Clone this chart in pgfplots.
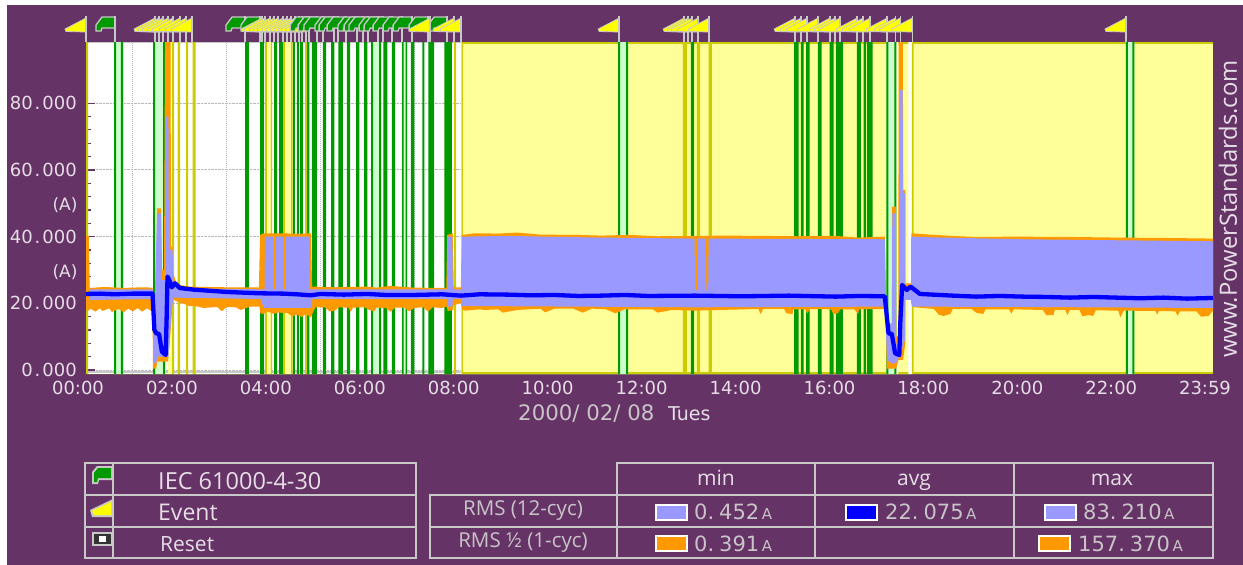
\documentclass[border=0pt]{standalone}
\usepackage{fontspec}
\setmainfont{DejaVu Sans}
\newfontfamily\tabfont{Open Sans}
\usepackage{pgfplots}
\pgfplotsset{compat=1.18}
\definecolor{bgp}{HTML}{663366}
\definecolor{lilac}{HTML}{9999FF}
\definecolor{orng}{HTML}{FF9900}
\definecolor{blu}{HTML}{0000FF}
\definecolor{grn}{HTML}{009900}
\definecolor{olv}{HTML}{CCCC00}
\definecolor{ylw}{HTML}{FFFF99}
\definecolor{lgrn}{HTML}{CCFFCC}
\definecolor{flagy}{HTML}{FFFF00}
\definecolor{flagg}{HTML}{C8C8C8}
\definecolor{txt}{HTML}{E6DEE6}
\definecolor{txtb}{HTML}{C8C4C8}
\pgfdeclareplotmark{yflag}{%
 \pgfsetlinewidth{0.8pt}\pgfsetstrokecolor{flagg}\pgfsetfillcolor{flagy}%
 \pgfpathmoveto{\pgfqpoint{0pt}{24pt}}\pgflineto{\pgfqpoint{-21pt}{13pt}}%
 \pgflineto{\pgfqpoint{-20pt}{10.5pt}}\pgflineto{\pgfqpoint{0pt}{10pt}}\pgfpathclose
 \pgfusepath{fill,stroke}%
 \pgfsetlinewidth{1.6pt}\pgfpathmoveto{\pgfqpoint{0pt}{0pt}}\pgflineto{\pgfqpoint{0pt}{26pt}}\pgfusepath{stroke}}
\pgfdeclareplotmark{gflag}{%
 \pgfsetlinewidth{1.3pt}\pgfsetstrokecolor{flagg}\pgfsetfillcolor{grn}%
 \pgfpathmoveto{\pgfqpoint{0pt}{25pt}}\pgflineto{\pgfqpoint{-13pt}{25pt}}%
 \pgflineto{\pgfqpoint{-19pt}{17pt}}\pgflineto{\pgfqpoint{-19pt}{11pt}}%
 \pgflineto{\pgfqpoint{-14pt}{11pt}}\pgflineto{\pgfqpoint{-13pt}{14pt}}\pgflineto{\pgfqpoint{0pt}{14pt}}\pgfpathclose
 \pgfusepath{fill,stroke}%
 \pgfsetlinewidth{1.6pt}\pgfpathmoveto{\pgfqpoint{0pt}{0pt}}\pgflineto{\pgfqpoint{0pt}{26pt}}\pgfusepath{stroke}}
\newcommand{\fs}[1]{\fontsize{#1}{#1}\selectfont}
\newcommand{\dt}{\hspace{2pt}.\hspace{2pt}}
\begin{document}
\begin{tikzpicture}
\begin{scope}[x=1pt,y=-1pt]
\useasboundingbox (0,0) rectangle (1243,565);
\fill[white] (0,0) rectangle (1243,565);
\fill[bgp] (7,5) rectangle (1243,565);
\end{scope}
\begin{axis}[
 at={(86pt,-374pt)},anchor=south west,
 scale only axis,width=1127pt,height=332pt,
 xmin=0,xmax=24.055,ymin=-1.2,ymax=98.35,
 clip=false,axis line style={draw=none},
 axis background/.style={fill=white},
 xtick={0,2.005,4.010,6.015,8.020,10.025,12.030,14.035,16.040,18.044,20.049,22.054,24.055},
 xticklabels={00:00,02:00,04:00,06:00,08:00,10:00,12:00,14:00,16:00,18:00,20:00,22:00,23:59},
 xtick style={draw=none},
 extra x ticks={1.0025,3.007,5.012,7.017,8.020},
 extra x tick labels={},
 extra x tick style={grid=major,major grid style={densely dotted,draw=gray!55,line width=1pt},tick style={draw=none}},
 xticklabel style={font=\fs{18},text=txt,inner sep=0pt,anchor=north,xshift=-8pt,yshift=-7pt},
 ytick={0,20,40,60,80},
 yticklabels={0\dt000,20\dt000,40\dt000,60\dt000,80\dt000},
 minor y tick num=4,
 ymajorgrids,
 major grid style={densely dotted,draw=gray!55,line width=1pt},
 tick pos=left,tick align=inside,
 major tick length=9pt,minor tick length=4.5pt,
 y tick style={draw=bgp,line width=1.2pt},
 minor y tick style={draw=bgp,line width=1.2pt},
 yticklabel style={font=\fs{18},text=txt,inner sep=0pt,anchor=east,xshift=-9pt},
]
% yellow part of the day
\addplot[fill=ylw,draw=none] coordinates {(8.05,-1.2)(8.05,98.35)(24.055,98.35)(24.055,-1.2)};
% grey/olive frame lines
\addplot[draw=gray!45,line width=1.6pt] coordinates {(0,-0.6)(8.05,-0.6)};
\addplot[draw=gray!45,line width=1.2pt] coordinates {(0,98.1)(8.05,98.1)};
\addplot[draw=olv,line width=1.4pt] coordinates {(8.05,-0.9)(24.055,-0.9)};
\addplot[draw=olv,line width=1.4pt] coordinates {(8.05,98.1)(24.055,98.1)};
% light green boxes
\addplot[const plot,fill=lgrn,draw=none] coordinates {(0.598,-1.2)(0.598,98.35)(0.79,-1.2)(1.431,-1.2)(1.431,98.35)(1.687,-1.2)(6.085,-1.2)(6.085,98.35)(6.299,-1.2)(6.747,-1.2)(6.747,98.35)(6.854,-1.2)(11.359,-1.2)(11.359,98.35)(11.573,-1.2)(17.082,-1.2)(17.082,98.35)(17.295,-1.2)(22.198,-1.2)(22.198,98.35)(22.377,-1.2)};
% light yellow strips
\addplot[const plot,fill=ylw,draw=none] coordinates {(1.751,-1.2)(1.751,98.35)(1.836,-1.2)(3.858,-1.2)(3.858,98.35)(3.944,-1.2)(4.249,-1.2)(4.249,98.35)(4.377,-1.2)};
% white strips
\addplot[const plot,fill=white,draw=none] coordinates {(8.0,-1.2)(8.0,98.35)(8.018,-1.2)(17.295,-1.2)(17.295,98.35)(17.338,-1.2)(17.551,-1.2)(17.551,98.35)(17.63,-1.2)};
% green bars
\addplot[const plot,fill=grn,draw=none] coordinates {(0.598,-1.2)(0.598,98.35)(0.641,-1.2)(0.747,-1.2)(0.747,98.35)(0.79,-1.2)(1.431,-1.2)(1.431,98.35)(1.473,-1.2)(1.644,-1.2)(1.644,98.35)(1.687,-1.2)
(3.395,-1.2)(3.395,98.35)(3.474,-1.2)(3.715,-1.2)(3.715,98.35)(3.801,-1.2)(4.014,-1.2)(4.014,98.35)(4.078,-1.2)(4.121,-1.2)(4.121,98.35)(4.206,-1.2)(4.413,-1.2)(4.413,98.35)(4.456,-1.2)(4.499,-1.2)(4.499,98.35)(4.542,-1.2)(4.569,-1.2)(4.569,98.35)(4.627,-1.2)(4.719,-1.2)(4.719,98.35)(4.768,-1.2)(4.819,-1.2)(4.819,98.35)(4.926,-1.2)(5.054,-1.2)(5.054,98.35)(5.124,-1.2)(5.231,-1.2)(5.231,98.35)(5.302,-1.2)(5.387,-1.2)(5.387,98.35)(5.481,-1.2)(5.566,-1.2)(5.566,98.35)(5.637,-1.2)(5.765,-1.2)(5.765,98.35)(5.836,-1.2)(5.936,-1.2)(5.936,98.35)(6.006,-1.2)
(6.085,-1.2)(6.085,98.35)(6.128,-1.2)(6.256,-1.2)(6.256,98.35)(6.299,-1.2)(6.348,-1.2)(6.348,98.35)(6.433,-1.2)(6.527,-1.2)(6.527,98.35)(6.598,-1.2)(6.747,-1.2)(6.747,98.35)(6.779,-1.2)(6.822,-1.2)(6.822,98.35)(6.854,-1.2)(6.933,-1.2)(6.933,98.35)(7.01,-1.2)(7.181,-1.2)(7.181,98.35)(7.223,-1.2)(7.309,-1.2)(7.309,98.35)(7.431,-1.2)(7.651,-1.2)(7.651,98.35)(7.808,-1.2)
(11.359,-1.2)(11.359,98.35)(11.402,-1.2)(11.53,-1.2)(11.53,98.35)(11.573,-1.2)(12.912,-1.2)(12.912,98.35)(12.982,-1.2)(15.117,-1.2)(15.117,98.35)(15.209,-1.2)(15.26,-1.2)(15.26,98.35)(15.316,-1.2)(15.373,-1.2)(15.373,98.35)(15.444,-1.2)(15.623,-1.2)(15.623,98.35)(15.70,-1.2)(15.871,-1.2)(15.871,98.35)(15.956,-1.2)(16.008,-1.2)(16.008,98.35)(16.157,-1.2)(16.456,-1.2)(16.456,98.35)(16.541,-1.2)(16.597,-1.2)(16.597,98.35)(16.648,-1.2)(16.669,-1.2)(16.669,98.35)(16.789,-1.2)(17.082,-1.2)(17.082,98.35)(17.124,-1.2)(17.252,-1.2)(17.252,98.35)(17.295,-1.2)(22.198,-1.2)(22.198,98.35)(22.24,-1.2)(22.335,-1.2)(22.335,98.35)(22.377,-1.2)};
% olive bars
\addplot[const plot,fill=olv,draw=none] coordinates {(0,-1.2)(0,98.35)(0.043,-1.2)(1.836,-1.2)(1.836,98.35)(1.879,-1.2)(1.954,-1.2)(1.954,98.35)(2.007,-1.2)(2.135,-1.2)(2.135,98.35)(2.178,-1.2)(2.274,-1.2)(2.274,98.35)(2.342,-1.2)(3.822,-1.2)(3.822,98.35)(3.858,-1.2)(3.944,-1.2)(3.944,98.35)(3.971,-1.2)(4.206,-1.2)(4.206,98.35)(4.249,-1.2)(4.377,-1.2)(4.377,98.35)(4.409,-1.2)(4.676,-1.2)(4.676,98.35)(4.719,-1.2)(7.857,-1.2)(7.857,98.35)(7.9,-1.2)(8.018,-1.2)(8.018,98.35)(8.05,-1.2)(12.741,-1.2)(12.741,98.35)(12.826,-1.2)(13.04,-1.2)(13.04,98.35)(13.11,-1.2)(13.287,-1.2)(13.287,98.35)(13.36,-1.2)(17.63,-1.2)(17.63,98.35)(17.664,-1.2)};
% RMS 1/2 envelope (orange)
\addplot[fill=orng,draw=none] coordinates {
(0,40.2)(0.06,40.2)(0.08,24.6)(0.4,24.9)(0.8,24.6)(1.2,24.8)(1.42,24.7)(1.43,14)(1.495,14)(1.516,48.5)(1.601,48.5)(1.623,30)(1.665,30)(1.687,98.35)(1.804,98.35)(1.815,37)(1.847,37)(1.858,29)(1.922,26.5)(2.007,25.5)(2.221,25)(3,24.8)(3.69,24.8)
(3.715,40.5)(3.8,41)(4.2,41)(4.5,40.8)(4.8,41)(4.826,25)(5.3,24.8)(6,25)(6.2,24.7)(6.5,25.2)(7,24.7)(7.69,24.6)(7.71,40.5)(7.83,41)(7.85,24.8)(8.0,24.8)(8.02,40.5)
(8.3,41)(8.8,40.9)(9.2,41.2)(9.7,40.6)(10.5,40.5)(11,40.3)(11.6,40.5)(12.2,40.1)(13,40.2)(13.6,40.3)(14.5,40.2)(15.2,40.1)(16,40.2)(16.5,39.7)(17.05,40)
(17.07,16)(17.096,12)(17.2,12)(17.202,49)(17.29,49)(17.295,10)(17.34,10)(17.344,98.35)(17.437,98.35)(17.44,54)(17.487,54)(17.49,26)(17.609,26)(17.615,41)(18,40.6)(18.5,40.2)(19,39.9)(20,40)(20.5,39.9)(21,39.9)(22,39.7)(23,39.6)(24.055,39.4)
(24.055,17.8)(23.96,16.2)(23.8,16)(23.7,17.6)(23.35,17.6)(23.3,16.3)(23.25,17.6)(22.9,17.7)(22.87,16.7)(22.82,17.7)(22.15,17.8)(22.08,15.8)(22.03,17.8)(21.55,17.9)(21.5,16.2)(21.4,16.5)(21.27,16.1)(21.2,18)(21,18)(20.95,16.5)(20.9,18)(20.68,18)(20.65,16.5)(20.5,16.4)(20.42,18)(19.8,18.2)(19.75,16.9)(19.7,18.2)(19.2,18.2)(19.15,16.8)(19,17.2)(18.9,18.3)(18.5,18.3)(18.45,16.8)(18.3,16.2)(18.2,16.6)(18.1,18.3)(17.7,18.8)(17.65,19)(17.615,20)
(17.61,22)(17.49,22)(17.487,8)(17.44,3)(17.344,3)(17.295,0.4)(17.09,0.4)(17.08,10)(17.06,16)(17.05,18.3)
(17,18.3)(16.5,18.2)(16.48,16.8)(16.4,18.2)(16.1,18.2)(16.05,17)(15.95,16.8)(15.9,18.2)(15.45,18.3)(15.4,17)(15.35,18.2)(15.1,18.2)(15.08,16.8)(14.95,17)(14.9,18.3)(14.45,18.3)(14.4,16.7)(14.35,18.3)(13.5,18)(13.0,17.8)(12.5,18)(12.2,17.2)(12.1,18.2)(11.5,18.2)(11.3,17)(11.1,18.2)(10.8,18.4)(10.6,17.2)(10.4,18.4)(10,18.4)(9.8,17.3)(9.7,18.4)(9.2,18)(8.9,17.2)(8.8,18.2)(8.5,18)(8.4,18.2)(8.1,17.8)(8.03,18)(8,20)
(7.85,19.5)(7.84,18)(7.72,17.7)(7.7,19)(7.6,18.6)(7.4,18.8)(7.3,17.5)(7.2,18.8)(7.0,18.6)(6.9,17.6)(6.8,18.7)(6.6,18.7)(6.5,17.5)(6.4,18.6)(6.2,18.7)(6.15,17.6)(6.05,18)(5.95,18.8)(5.7,18.7)(5.65,17.5)(5.6,18.7)(5.4,18.8)(5.3,17.7)(5.2,17.6)(5.1,18.8)(4.9,18.8)(4.85,17.5)(4.8,15.8)(4.7,16.8)(4.6,15.9)(4.5,16.6)(4.4,16.1)(4.3,17.1)(4.1,17.2)(4.0,16.8)(3.95,17.2)(3.85,17.6)(3.8,16.8)(3.72,17)(3.7,19)(3.5,19)(3.3,18)(3.2,18.8)(3,18.9)(2.9,17.6)(2.8,18.9)(2.5,18.6)(2.4,19)(2.2,19.2)(2.1,19.8)(2,20.2)(1.9,20.8)(1.85,21.5)(1.82,14)(1.75,2.5)(1.52,2.5)(1.5,0.4)(1.43,0.4)(1.42,17.5)
(1.3,18.5)(1.2,17.5)(1.1,18.6)(1,17.6)(0.9,18.4)(0.8,17.3)(0.7,18.3)(0.55,17.4)(0.5,18.5)(0.35,17.7)(0.3,18.5)(0.2,17.5)(0.1,18.4)(0.02,17.5)(0,19)};
% RMS 12-cyc envelope (lilac)
\addplot[fill=lilac,draw=none] coordinates {
(0.07,24.2)(1.42,24.2)(1.43,12)(1.45,12)(1.516,47)(1.6,47)(1.62,27)(1.687,27)(1.7,76)(1.76,76)(1.77,36)(1.85,36)(1.86,27)(1.95,25)(2.5,24.4)(3.7,24.2)(3.81,24.2)(3.82,40)(4.0,40)(4.01,24.2)(4.05,24.2)(4.06,40)(4.2,40)(4.21,24.2)(4.26,24.2)(4.27,40)(4.76,40)(4.77,24.2)(7.7,24.2)(7.72,24.2)(7.73,40)(7.82,40)(7.83,24.2)(8.02,24.2)(8.03,40)(9,40.2)(11,39.7)(12.99,39.4)(13,24)(13.05,24)(13.06,39.4)(13.23,39.4)(13.24,24)(13.28,24)(13.29,39.4)(17.05,39.2)(17.09,14)(17.2,14)(17.21,47)(17.27,47)(17.28,8)(17.35,8)(17.36,84)(17.43,84)(17.44,53)(17.487,53)(17.49,24)(17.61,24)(17.62,40)(18,39.8)(20,39.2)(24.055,38.6)
(24.055,18.6)(20,18.9)(17.63,19)(17.61,21)(17.49,21)(17.48,9)(17.36,4)(17.28,2)(17.2,2)(17.1,3)(17.05,19)(13,18.8)(8.03,19.2)(8.02,21.3)(7.83,21.3)(7.82,19)(7.72,19)(7.71,21.3)(4.83,21.3)(4.82,18.6)(3.8,18.6)(3.72,21.3)(1.86,21.7)(1.82,16)(1.76,4)(1.52,4)(1.5,2)(1.45,2)(1.43,12)(1.42,21.3)(0.07,21)};
% RMS 12-cyc average (blue)
\addplot[draw=blu,line width=4.3pt,line join=round] coordinates {
(0,22.8)(0.3,22.9)(0.6,22.7)(1,22.9)(1.42,22.9)(1.46,12)(1.5,11)(1.56,10.8)(1.62,5.5)(1.7,4.5)(1.72,15)(1.74,28)(1.79,26.5)(1.83,24.8)(1.9,26)(2.0,24.6)(2.3,24.1)(3,23.4)(3.7,23)(4.2,22.9)(4.5,22.7)(4.8,22.4)(5.0,22.8)(5.5,22.6)(6,22.8)(6.4,22.5)(7,22.5)(7.6,22.7)(8,22.3)(8.4,22.7)(9,22.6)(9.5,22.4)(10,22.5)(10.5,22.2)(11,22.3)(11.5,22.5)(12,22.2)(13,22.3)(14,22.1)(15,22.3)(16,22)(16.5,22.2)(17.05,22.1)(17.1,15)(17.13,11)(17.2,10.8)(17.27,5)(17.36,4.5)(17.38,14)(17.42,25.5)(17.52,24)(17.6,25)(17.8,22.8)(18.5,22.3)(19,22)(19.5,22.2)(20,22)(20.5,21.9)(21,21.7)(21.5,21.9)(22,21.7)(22.5,21.5)(23,21.7)(23.5,21.4)(24.055,21.6)};
% flags: green, events, green, events
\addplot[only marks,mark=gflag] coordinates {(0.619,98.35)(3.395,98.35)(3.715,98.35)};
\addplot[only marks,mark=yflag] coordinates {(0,98.35)(1.473,98.35)(1.559,98.35)(1.644,98.35)(1.751,98.35)(1.858,98.35)(2.007,98.35)(2.135,98.35)(2.263,98.35)(3.758,98.35)(3.822,98.35)(3.929,98.35)(4.014,98.35)(4.100,98.35)(4.206,98.35)(4.292,98.35)(4.377,98.35)(4.463,98.35)(4.548,98.35)(4.612,98.35)(4.697,98.35)(11.381,98.35)(12.768,98.35)(12.854,98.35)(12.939,98.35)(13.067,98.35)(13.302,98.35)(15.138,98.35)(15.267,98.35)(15.395,98.35)(15.629,98.35)(15.886,98.35)(15.992,98.35)(16.099,98.35)(16.462,98.35)(16.59,98.35)(16.74,98.35)(17.103,98.35)(17.274,98.35)(17.381,98.35)(17.637,98.35)(22.198,98.35)};
\addplot[only marks,mark=gflag] coordinates {(4.762,98.35)(4.933,98.35)(5.06,98.35)(5.295,98.35)(5.381,98.35)(5.552,98.35)(5.786,98.35)(5.915,98.35)(6.021,98.35)(6.235,98.35)(6.342,98.35)(6.534,98.35)(6.747,98.35)(6.961,98.35)(7.302,98.35)(7.708,98.35)};
\addplot[only marks,mark=yflag] coordinates {(7.345,98.35)(7.857,98.35)(8.007,98.35)};
\end{axis}
\begin{scope}[x=1pt,y=-1pt]
\node[text=txt,font=\fs{17}] at (65,205) {(A)};
\node[text=txt,font=\fs{17}] at (65,272) {(A)};
\node[text=txt,rotate=90,font=\tabfont\fs{23.8}] at (1228,209) {www.PowerStandards.com};
\node[text=txtb,font=\fs{21.3},anchor=west,inner sep=0pt] at (518,414) {2000/ 02/ 08};
\node[text=txt,font=\fs{19},anchor=west,inner sep=0pt] at (668,414) {Tues};
% tables
\draw[draw=flagg,line width=1.4pt] (85,463) rectangle (416,558);
\draw[draw=flagg,line width=1.4pt] (85,495)--(416,495) (85,527)--(416,527) (113,463)--(113,558);
\draw[draw=flagg,line width=1.4pt] (617,463) rectangle (1213,558);
\draw[draw=flagg,line width=1.4pt] (430,495) rectangle (1213,558);
\draw[draw=flagg,line width=1.4pt] (430,527)--(1213,527) (617,463)--(617,558) (815,463)--(815,558) (1014,463)--(1014,558);
\node[text=txt,font=\tabfont\fs{23.5},anchor=west,inner sep=0pt] at (158,481) {IEC 61000-4-30};
\node[text=txt,font=\tabfont\fs{23},anchor=west,inner sep=0pt] at (158,512) {Event};
\node[text=txt,font=\tabfont\fs{21},anchor=west,inner sep=0pt] at (160,544) {Reset};
\node[text=txtb,font=\tabfont\fs{20.5}] at (523,511) {RMS (12-cyc)};
\node[text=txtb,font=\tabfont\fs{20.5}] at (523,543) {RMS ½ (1-cyc)};
\node[text=txt,font=\tabfont\fs{21},anchor=base,inner sep=0pt] at (716,485) {min};
\node[text=txt,font=\tabfont\fs{21},anchor=base,inner sep=0pt] at (914,485) {avg};
\node[text=txt,font=\tabfont\fs{21},anchor=base,inner sep=0pt] at (1112,485) {max};
% legend icons
\fill[flagg] (92,472)--(97,466)--(113,466)--(113,480)--(99,480)--(98,484)--(92,484)--cycle;
\fill[grn] (94,473)--(98,468)--(111,468)--(111,478)--(98,478)--(97,482)--(94,482)--cycle;
\fill[flagg] (90,510)--(113,499)--(113,517)--(92,517)--cycle;
\fill[flagy] (92,511)--(111,502)--(111,515)--(94,515)--cycle;
\fill[flagg] (92,532) rectangle (113,546);
\fill[black!80] (94,534) rectangle (111,544);
\fill[white] (99,536) rectangle (106,542);
% swatches
\foreach \a/\b/\c/\d in {656/687/505/lilac,846/877/505/blu,1045/1076/505/lilac,656/687/536/orng,1039/1070/536/orng}
  \draw[draw=white,line width=1.2pt,fill=\d] (\a,\c) rectangle (\b,\c+15);
\newcommand{\val}[3]{\node[text=txtb,font=\fs{21},anchor=west,inner sep=0pt] at (#1,#2) {#3\fs{15}\,A};}
\val{694}{512}{0.\hspace{5pt}452}
\val{885}{512}{22.\hspace{5pt}075}
\val{1083}{512}{83.\hspace{5pt}210}
\val{694}{544}{0.\hspace{5pt}391}
\val{1078}{544}{157.\hspace{5pt}370}
\end{scope}
\end{tikzpicture}
\end{document}
